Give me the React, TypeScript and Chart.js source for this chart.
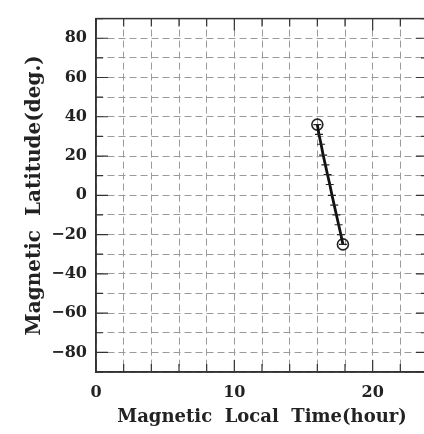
import React, { useEffect, useRef } from "react";
import { Chart, registerables } from "chart.js";

Chart.register(...registerables);

const trackMLT = [16.0, 16.12, 16.27, 16.42, 16.58, 16.74, 16.9, 17.06, 17.22, 17.38, 17.54, 17.7, 17.85];
const trackLat = [36, 31, 26, 20.5, 15.5, 10.5, 5.5, 0, -5, -10, -15, -20, -25];
const endMLT = [16.0, 17.85];
const endLat = [36, -25];
const xTickLabels = [0, 10, 20];
const yTickLabels = [-80, -60, -40, -20, 0, 20, 40, 60, 80];
const xTitle = "Magnetic  Local  Time(hour)";
const yTitle = "Magnetic  Latitude(deg.)";

const FONT = "'DejaVu Serif', serif";

const innerTicks = {
  id: "innerTicks",
  afterDraw(chart: any) {
    const { ctx, chartArea: a, scales } = chart;
    const xs = scales.x;
    const ys = scales.y;
    ctx.save();
    ctx.setLineDash([]);
    ctx.strokeStyle = "#333";
    ctx.lineWidth = 1.2;
    ctx.beginPath();
    for (let v = 0; v <= 24; v += 2) {
      const px = xs.getPixelForValue(v);
      const len = xTickLabels.includes(v) ? 12 : 8;
      ctx.moveTo(px, a.bottom);
      ctx.lineTo(px, a.bottom - len);
      ctx.moveTo(px, a.top);
      ctx.lineTo(px, a.top + len);
    }
    for (let v = -90; v <= 90; v += 10) {
      const py = ys.getPixelForValue(v);
      const len = yTickLabels.includes(v) ? 12 : 7;
      ctx.moveTo(a.left, py);
      ctx.lineTo(a.left + len, py);
      ctx.moveTo(a.right, py);
      ctx.lineTo(a.right - len, py);
    }
    ctx.stroke();
    ctx.lineWidth = 1.5;
    ctx.strokeRect(a.left, a.top, a.right - a.left, a.bottom - a.top);
    ctx.restore();
  },
};

export default function App() {
  const ref = useRef<HTMLCanvasElement>(null);
  useEffect(() => {
    if (!ref.current) return;
    const chart = new Chart(ref.current, {
      type: "scatter",
      data: {
        datasets: [
          {
            data: trackMLT.map((x, i) => ({ x, y: trackLat[i] })),
            showLine: true,
            borderColor: "#111",
            borderWidth: 2.8,
            pointStyle: "line",
            pointRadius: 4,
            pointBorderWidth: 1.2,
            pointBorderColor: "#222",
            pointBackgroundColor: "#222",
          },
          {
            data: endMLT.map((x, i) => ({ x, y: endLat[i] })),
            showLine: false,
            pointStyle: "circle",
            pointRadius: 5.5,
            pointBorderWidth: 1.6,
            pointBorderColor: "#222",
            pointBackgroundColor: "rgba(0,0,0,0)",
          },
        ],
      },
      options: {
        animation: false,
        responsive: false,
        maintainAspectRatio: false,
        layout: { padding: { top: 7, right: 12, left: 0, bottom: 0 } },
        plugins: { legend: { display: false }, tooltip: { enabled: false } },
        scales: {
          x: {
            type: "linear",
            min: 0,
            max: 24,
            afterFit: (s: any) => { s.height = 62; },
            afterBuildTicks: (s: any) => {
              const t = [];
              for (let v = 0; v <= 24; v += 2) t.push({ value: v });
              s.ticks = t;
            },
            ticks: {
              autoSkip: false,
              maxRotation: 0,
              padding: 11,
              color: "#222",
              font: { family: FONT, size: 16, weight: "bold" },
              callback: (v: any) => (xTickLabels.includes(v) ? String(v) : ""),
            },
            grid: {
              color: "#9a9a9a",
              lineWidth: 1,
              drawTicks: false,
              tickLength: 0,
            },
            border: { display: true, color: "#333", width: 1.5, dash: [7, 4] },
            title: {
              display: true,
              text: xTitle,
              color: "#222",
              font: { family: FONT, size: 18, weight: "bold" },
              padding: { top: 2, bottom: 6 },
            },
          },
          y: {
            type: "linear",
            min: -90,
            max: 90,
            afterFit: (s: any) => { s.width = 96; },
            afterBuildTicks: (s: any) => {
              const t = [];
              for (let v = -90; v <= 90; v += 10) t.push({ value: v });
              s.ticks = t;
            },
            ticks: {
              autoSkip: false,
              padding: 9,
              color: "#222",
              font: { family: FONT, size: 16, weight: "bold" },
              callback: (v: any) => (yTickLabels.includes(v) ? String(v).replace("-", "\u2212") : ""),
            },
            grid: {
              color: "#9a9a9a",
              lineWidth: 1,
              drawTicks: false,
              tickLength: 0,
            },
            border: { display: true, color: "#333", width: 1.5, dash: [7, 4] },
            title: {
              display: true,
              text: yTitle,
              color: "#222",
              font: { family: FONT, size: 20, weight: "bold" },
              padding: { top: 23, bottom: 0 },
            },
          },
        },
      },
      plugins: [innerTicks],
    } as any);
    return () => chart.destroy();
  }, []);
  return (
    <div style={{ position: "fixed", left: 0, top: 0, width: 424, height: 434, overflow: "hidden", background: "#fff" }}>
      <canvas ref={ref} width={440} height={434} style={{ display: "block" }} />
    </div>
  );
}
